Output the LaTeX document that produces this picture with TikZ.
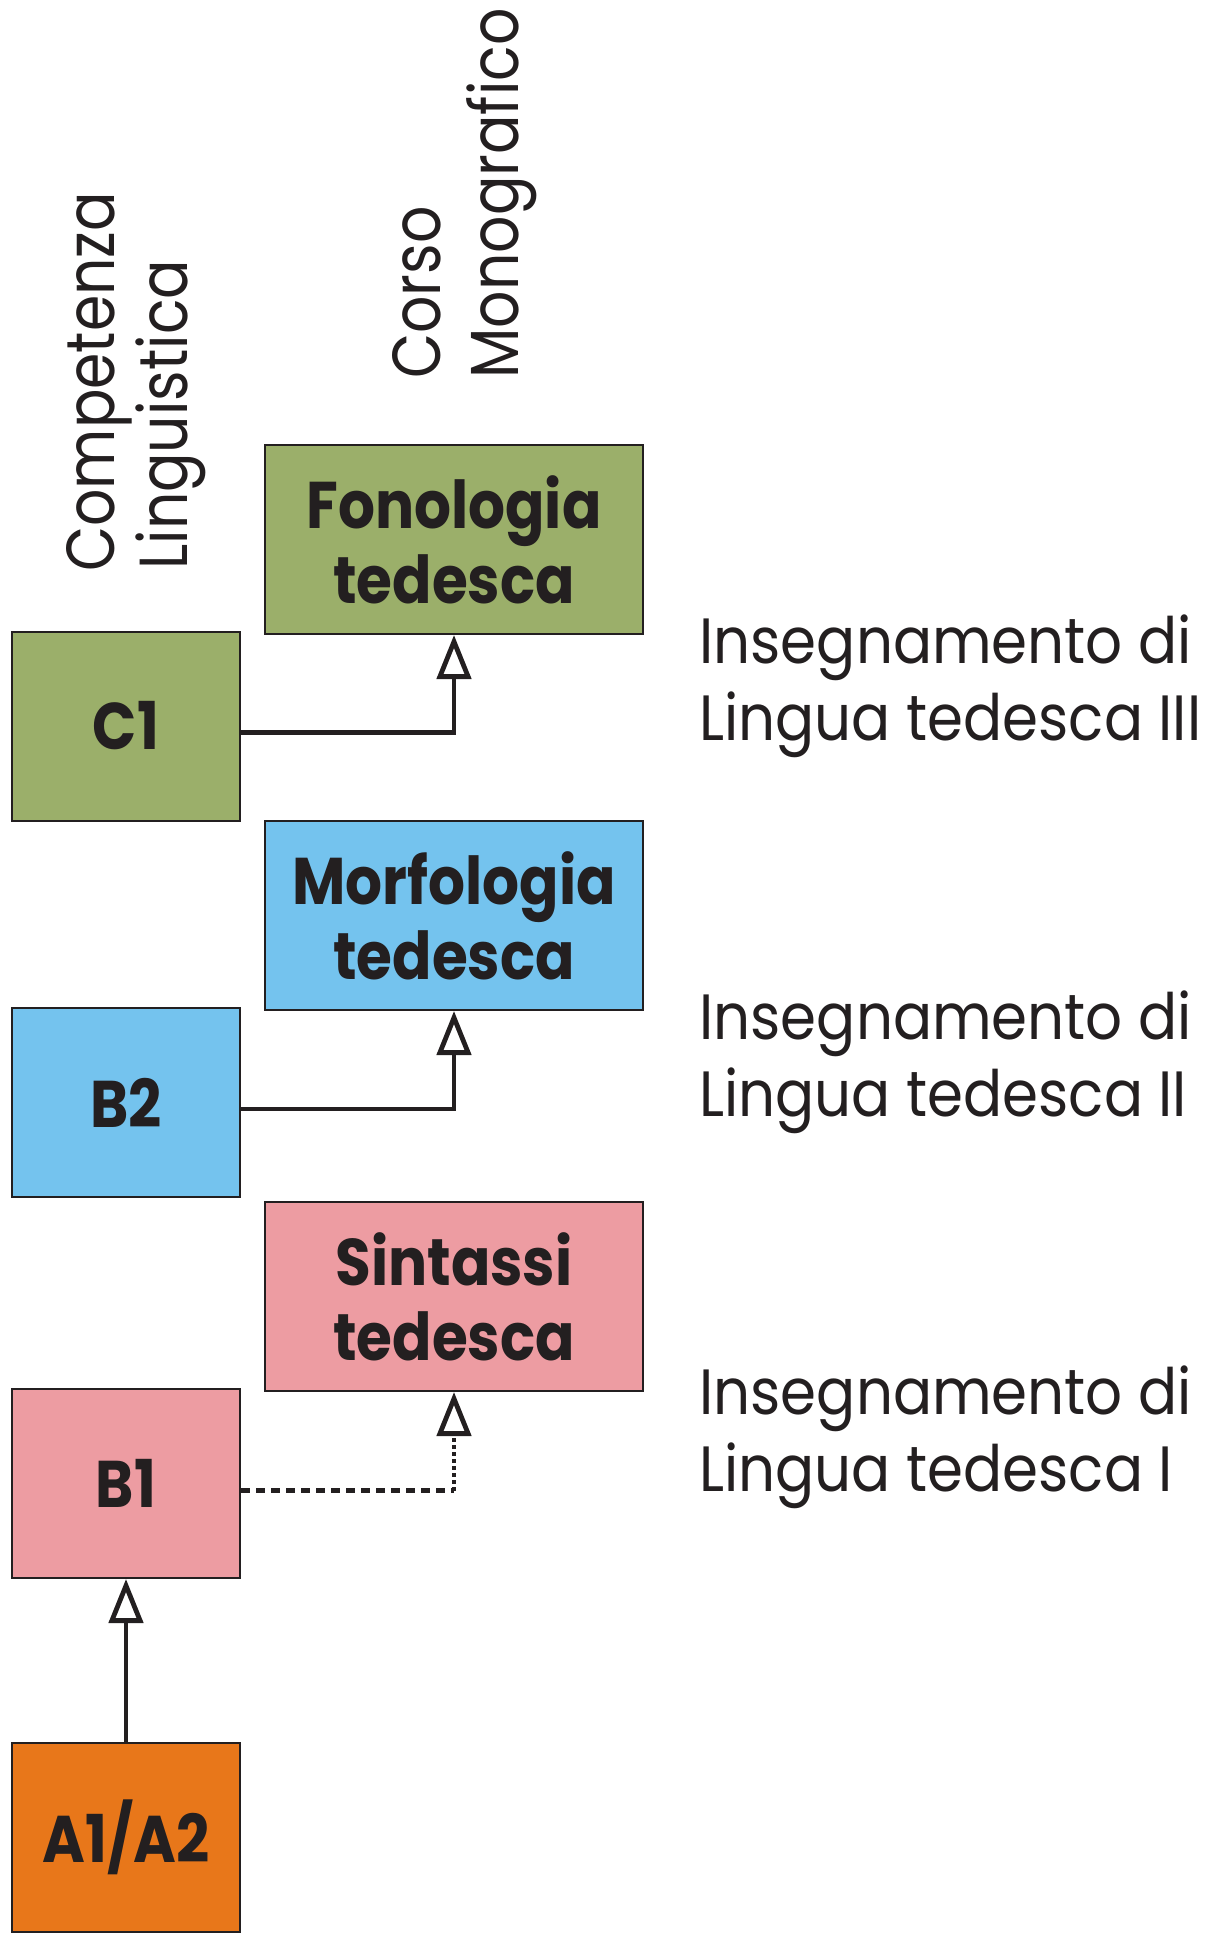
\documentclass[tikz,border=0pt]{standalone}
\usepackage{fontspec}
\setmainfont{Poppins}
\newfontfamily\headfont[FakeStretch=0.86]{Poppins}
\newfontfamily\notefont[FakeStretch=0.905]{Poppins}
\newfontfamily\boxfont[FakeStretch=0.88]{Poppins}
\usetikzlibrary{arrows.meta, positioning}
\usepackage{xcolor}
\definecolor{ink}{HTML}{231F20}
\definecolor{levelC}{HTML}{9BAF6A}
\definecolor{levelB}{HTML}{74C3EE}
\definecolor{levelP}{HTML}{ED9CA2}
\definecolor{levelA}{HTML}{E8771A}
\def\boxht{94.5pt}

\begin{document}
\begin{tikzpicture}[x=0.5pt, y=-0.5pt, draw=ink]
    \tikzstyle{level box}=[rectangle, draw=ink, line width=1pt, minimum width=114pt, minimum height=\boxht, inner sep=0pt, text=ink, font=\boxfont\bfseries\fontsize{33}{37.5}\selectfont]
    \tikzstyle{course box}=[level box, minimum width=189pt, align=center]
    \tikzstyle{head}=[rotate=90, anchor=base west, inner sep=0pt, text=ink, font=\headfont\fontsize{34}{40}\selectfont]
    \tikzstyle{note}=[anchor=base west, inner sep=0pt, text=ink, font=\notefont\fontsize{32}{38}\selectfont]
    \tikzstyle{link}=[line width=2.4pt, draw=ink]
    \tikzstyle{arr}=[link, -{Triangle[open, length=22pt, width=17pt]}]

    \useasboundingbox (0,0) rectangle (1209,1933);

    % Draw the column headings
    \node[head] (comp) at (114,572) {Competenza};
    \node[head] (ling) at (187,570) {Linguistica};
    \node[head] (corso) at (440,379) {Corso};
    \node[head] (mono) at (518,379) {Monografico};

    % Draw the course boxes
    \node[course box, fill=levelC] (Fon) at (454,539.5) {Fonologia\\tedesca};
    \node[course box, fill=levelB] (Mor) at (454,915.5) {Morfologia\\tedesca};
    \node[course box, fill=levelP] (Sin) at (454,1296.5) {Sintassi\\tedesca};

    % Draw the level boxes
    \node[level box, fill=levelC] (C1) at (126,726) {C1};
    \node[level box, fill=levelB] (B2) at (126,1102.5) {B2};
    \node[level box, fill=levelP] (B1) at (126,1483.5) {B1};
    \node[level box, fill=levelA] (A12) at (126,1837.5) {A1/A2};

    % Draw the year labels
    \node[note] (ins3a) at (699,663) {Insegnamento di};
    \node[note] (ins3b) at (699,740) {Lingua tedesca III};
    \node[note] (ins2a) at (699,1039) {Insegnamento di};
    \node[note] (ins2b) at (699,1116) {Lingua tedesca II};
    \node[note] (ins1a) at (699,1414) {Insegnamento di};
    \node[note] (ins1b) at (699,1491) {Lingua tedesca I};

    % Draw the links
    \draw[arr] ([yshift=-3.25pt]C1.east) -| (Fon.south);
    \draw[arr] ([yshift=-3.25pt]B2.east) -| (Mor.south);
    \coordinate (kinkB1) at (Sin.south |- B1.east);
    \draw[link, dash pattern=on 4.5pt off 3pt] ([yshift=-3.5pt]B1.east) -- ([yshift=-3.5pt]kinkB1);
    \draw[arr, dash pattern=on 2pt off 1.5pt] ([yshift=-3.5pt]kinkB1) -- (Sin.south);
    \draw[arr] (A12.north) -- (B1.south);
\end{tikzpicture}
\end{document}
